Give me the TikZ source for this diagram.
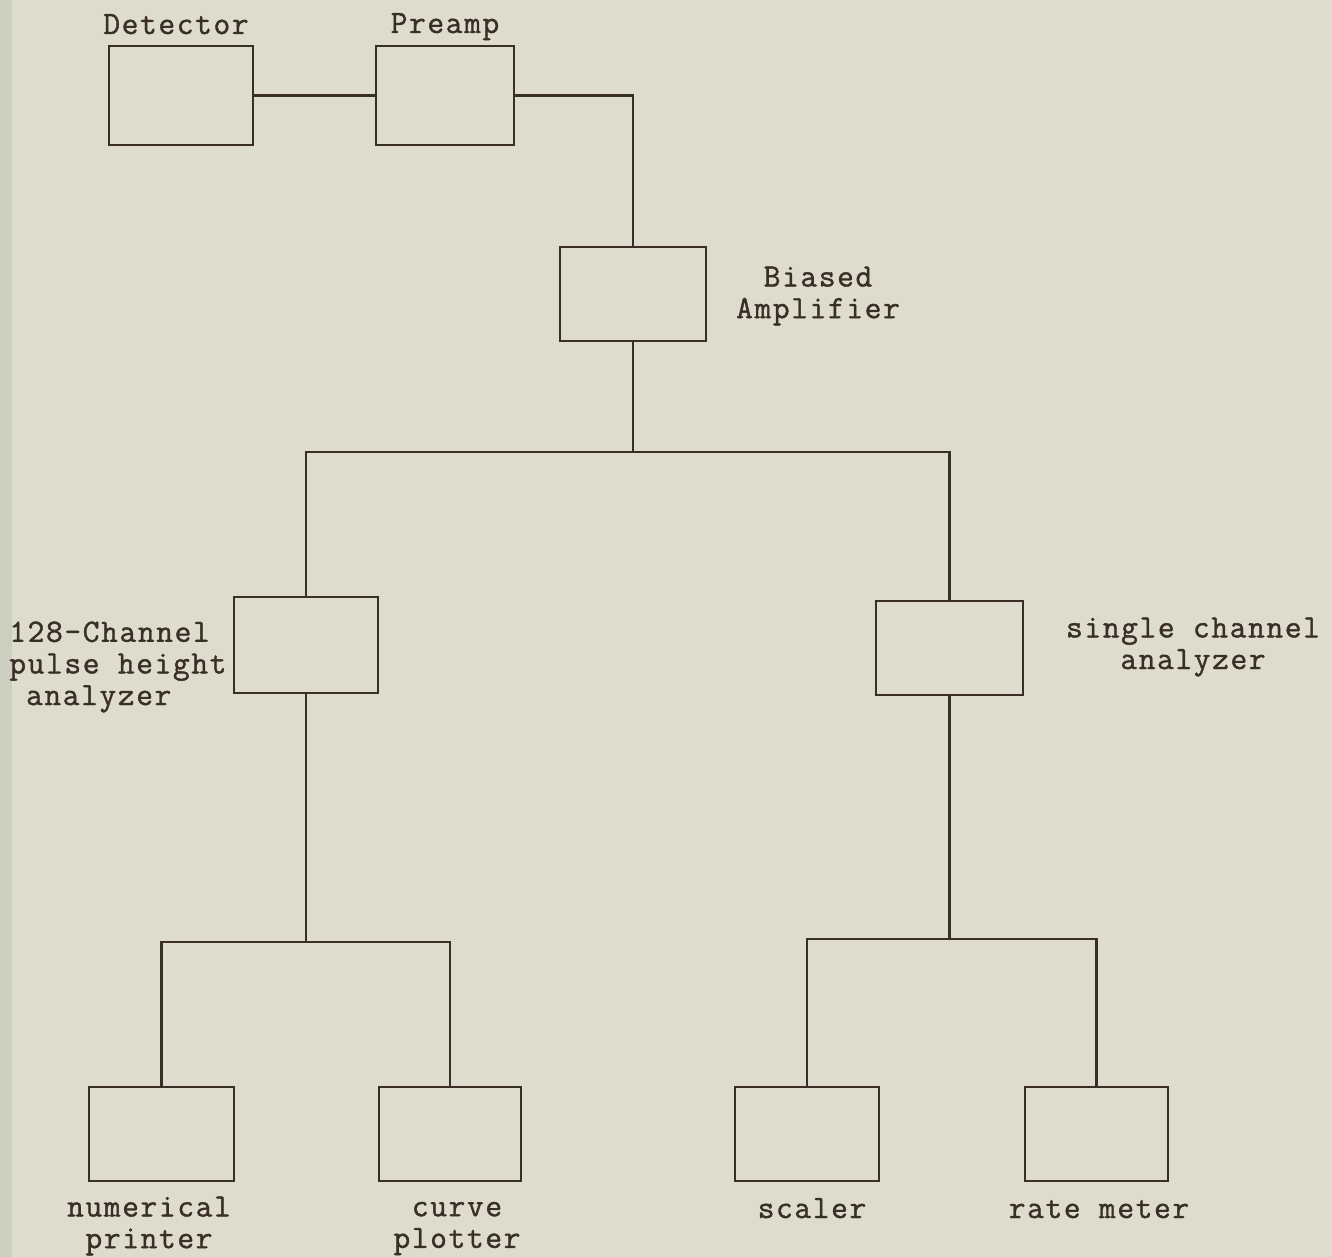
\documentclass[tikz,border=0pt]{standalone}
\usepackage{fontspec}
\newfontfamily\typew[FakeBold=1.2,LetterSpace=5]{Latin Modern Mono}
\definecolor{paper}{RGB}{222,221,205}
\definecolor{strip}{RGB}{204,206,192}
\definecolor{ink}{RGB}{58,46,40}
\begin{document}
\begin{tikzpicture}[x=0.02cm,y=-0.02cm,
  blk/.style={draw=ink, line width=1.4pt, inner sep=0pt},
  conn/.style={draw=ink, line width=1.25pt},
  lbl/.style={font=\typew\fontsize{18.5pt}{18pt}\selectfont, text=ink, inner sep=0pt}]
\useasboundingbox (0,0) rectangle (1332,1257);
\fill[paper] (0,0) rectangle (1332,1257);
\fill[strip] (0,0) rectangle (12,1257);
% boxes
\node[blk, minimum width=2.88cm, minimum height=1.98cm] (det) at (181,95.5) {};
\node[blk, minimum width=2.76cm, minimum height=1.98cm] (pre) at (445,95.5) {};
\node[blk, minimum width=2.92cm, minimum height=1.88cm] (amp) at (633,294) {};
\node[blk, minimum width=2.88cm, minimum height=1.92cm] (pha) at (306,645) {};
\node[blk, minimum width=2.94cm, minimum height=1.88cm] (sca) at (949.5,648) {};
\node[blk, minimum width=2.90cm, minimum height=1.88cm] (np) at (161.5,1134) {};
\node[blk, minimum width=2.84cm, minimum height=1.88cm] (cp) at (450,1134) {};
\node[blk, minimum width=2.88cm, minimum height=1.88cm] (sc) at (807,1134) {};
\node[blk, minimum width=2.86cm, minimum height=1.88cm] (rm) at (1096.5,1134) {};
% junctions
\coordinate (j1) at (0,452);
\coordinate (j2) at (0,942);
\coordinate (j3) at (0,939);
% connectors
\draw[conn] (det.east) -- (pre.west);
\draw[conn] (pre.east) -| (amp.north);
\draw[conn] (amp.south) -- (amp.south |- j1);
\draw[conn] (pha.north) -- (pha.north |- j1) -- (sca.north |- j1) -- (sca.north);
\draw[conn] (pha.south) -- (pha.south |- j2);
\draw[conn] (np.north) -- (np.north |- j2) -- (cp.north |- j2) -- (cp.north);
\draw[conn] (sca.south) -- (sca.south |- j3);
\draw[conn] (sc.north) -- (sc.north |- j3) -- (rm.north |- j3) -- (rm.north);
% labels
\node[lbl, anchor=base] (tdet) at (176,34) {Detector};
\node[lbl, anchor=base] (tpre) at (445,33) {Preamp};
\node[lbl, align=center] (tamp) at (818,296) {Biased\\Amplifier};
\node[lbl, align=left, anchor=west] (tpha) at (9,667) {128-Channel\\pulse height\\\hphantom{a}analyzer};
\node[lbl, align=center] (tsca) at (1193,647) {single channel\\analyzer};
\node[lbl, align=center] (tnp) at (149,1226) {numerical\\printer};
\node[lbl, align=center] (tcp) at (457,1228.5) {curve\\plotter};
\node[lbl, anchor=base] (tsc) at (812,1218) {scaler};
\node[lbl, anchor=base] (trm) at (1099,1218) {rate meter};
\end{tikzpicture}
\end{document}
